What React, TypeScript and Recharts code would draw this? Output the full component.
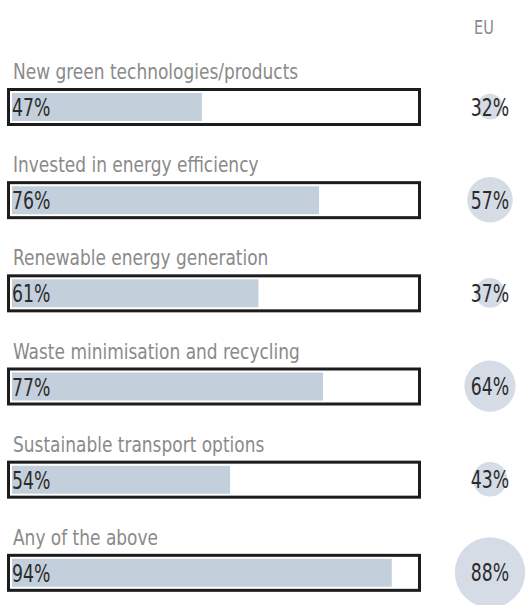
import React from "react";
import {
  ComposedChart,
  Bar,
  Scatter,
  XAxis,
  YAxis,
  LabelList,
} from "recharts";

const categories = [
  "New green technologies/products",
  "Invested in energy efficiency",
  "Renewable energy generation",
  "Waste minimisation and recycling",
  "Sustainable transport options",
  "Any of the above",
];
const firmValues = [47, 76, 61, 77, 54, 94];
const euValues = [32, 57, 37, 64, 43, 88];
const euHeader = "EU";

const FONT = "'DejaVu Sans Condensed', 'DejaVu Sans', sans-serif";
const BAR_FILL = "#c3cfdb";
const BUBBLE_FILL = "#d5dce6";
const BOX_STROKE = "#1c1c1c";
const LABEL_GREY = "#8a8a8a";
const VALUE_DARK = "#2b2b2b";

const data = categories.map((name, i) => ({
  name,
  value: firmValues[i],
  eu: euValues[i],
  region: euHeader,
}));

// narrow text: squeeze horizontally around its anchor point
const NarrowText = ({ x, y, sx, anchor = "start", size, fill, children }: any) => (
  <text
    transform={`translate(${x},${y}) scale(${sx},1)`}
    textAnchor={anchor}
    fill={fill}
    fontSize={size}
    fontFamily={FONT}
    style={{ fontStretch: "condensed" }}
  >
    {children}
  </text>
);

// outlined box behind each bar = the 0-100% track
const BoxBackground = (props: any) => {
  const { x, y, width, height } = props;
  return (
    <rect
      x={x - 3.5}
      y={y - 3.5}
      width={width + 7}
      height={height + 7}
      fill="#ffffff"
      stroke={BOX_STROKE}
      strokeWidth={3}
    />
  );
};

const RowLabels = (props: any) => {
  const { x, y, height, index } = props;
  return (
    <g>
      <NarrowText x={x + 1} y={y - 14} sx={0.9} size={21} fill={LABEL_GREY}>
        {categories[index]}
      </NarrowText>
      <NarrowText x={x} y={y + height / 2 + 9} sx={0.8} size={24} fill={VALUE_DARK}>
        {`${firmValues[index]}%`}
      </NarrowText>
    </g>
  );
};

// bubble radius grows linearly with the EU share
const EuBubble = (props: any) => {
  const { cx, cy, payload } = props;
  return (
    <g>
      <circle cx={cx} cy={cy} r={payload.eu * 0.4} fill={BUBBLE_FILL} />
      <NarrowText x={cx} y={cy + 9} sx={0.8} size={24} anchor="middle" fill={VALUE_DARK}>
        {`${payload.eu}%`}
      </NarrowText>
    </g>
  );
};

const EuTick = (props: any) => {
  const { x, y, payload } = props;
  return (
    <NarrowText x={x - 6} y={y - 18} sx={0.85} size={19} anchor="middle" fill={LABEL_GREY}>
      {payload.value}
    </NarrowText>
  );
};

export default function App() {
  return (
    <div
      style={{
        position: "absolute",
        left: 0,
        top: 0,
        width: 527,
        height: 605,
        overflow: "hidden",
        background: "#ffffff",
      }}
    >
      <ComposedChart
        width={527}
        height={620}
        data={data}
        layout="vertical"
        margin={{ top: 30, right: 111, bottom: 1, left: 12 }}
      >
        <XAxis type="number" dataKey="value" domain={[0, 100]} hide />
        <XAxis
          xAxisId="eu"
          orientation="top"
          type="category"
          dataKey="region"
          allowDuplicatedCategory={false}
          height={30}
          axisLine={false}
          tickLine={false}
          padding={{ left: 452, right: -100 }}
          tick={<EuTick />}
        />
        <YAxis type="category" dataKey="name" hide />
        <Bar
          dataKey="value"
          fill={BAR_FILL}
          barSize={28}
          background={BoxBackground}
          isAnimationActive={false}
        >
          <LabelList dataKey="value" content={<RowLabels />} />
        </Bar>
        <Scatter xAxisId="eu" dataKey="eu" shape={<EuBubble />} isAnimationActive={false} />
      </ComposedChart>
    </div>
  );
}
